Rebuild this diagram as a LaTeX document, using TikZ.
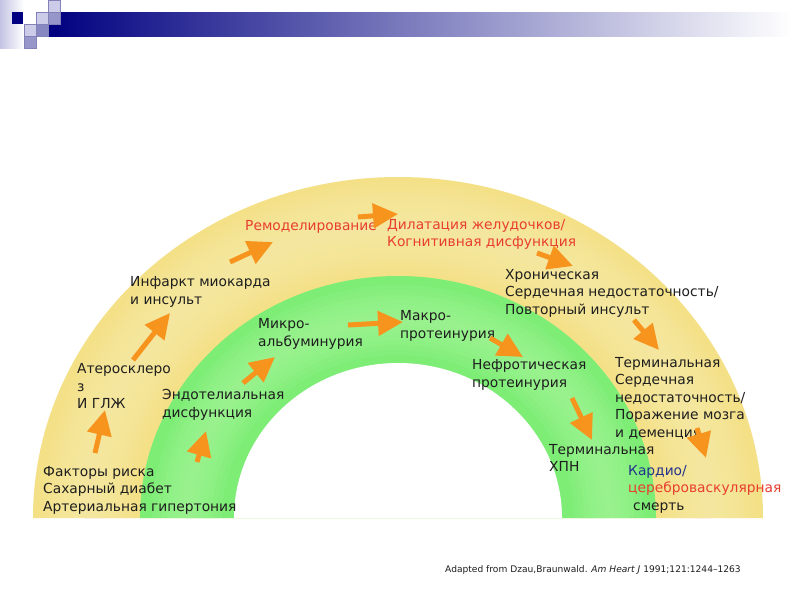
\documentclass[tikz,border=0pt]{standalone}
\usepackage{fontspec}
\setmainfont{DejaVu Sans}
\usetikzlibrary{arrows.meta}
\definecolor{navy}{RGB}{0,0,128}
\definecolor{lav}{RGB}{204,204,232}
\definecolor{lavmid}{RGB}{150,150,200}
\definecolor{lavedge}{RGB}{130,130,185}
\definecolor{ylw}{RGB}{244,224,135}
\definecolor{ylwlight}{RGB}{250,237,172}
\definecolor{grn}{RGB}{125,237,118}
\definecolor{grnlight}{RGB}{172,248,160}
\definecolor{orng}{RGB}{247,148,30}
\definecolor{txt}{RGB}{30,30,30}
\definecolor{rd}{RGB}{232,62,48}
\definecolor{blu}{RGB}{35,50,140}
\begin{document}
\begin{tikzpicture}[x=1pt,y=-1pt,
  lbl/.style={anchor=west,align=left,inner sep=0pt,font=\fontsize{13.8}{17.5}\selectfont,text=txt},
  arr/.style={draw=orng,line width=5pt,-{Triangle[width=24pt,length=25pt]}},
  sq/.style={draw=lavedge,line width=0.4pt}]
\useasboundingbox (0,0) rectangle (800,600);
\fill[white] (0,0) rectangle (800,600);
% header
\shade[left color=lav!85!lavmid,right color=white] (0,0) rectangle (24,48);
\shade[left color=navy,right color=white] (48,12) rectangle (792,36);
\fill[navy] (12,12) rectangle (23,24);
\fill[sq,fill=lav] (36,12) rectangle (48,24);
\fill[sq,fill=lav] (48,0) rectangle (60,12);
\fill[sq,fill=lavmid] (48,12) rectangle (60,24);
\fill[sq,fill=lav] (24,24) rectangle (36,36);
\fill[sq,fill=lavmid!90!navy] (36,24) rectangle (48,36);
\fill[sq,fill=lavmid] (24,36) rectangle (36,48);
% yellow band
\fill[ylw] (33,518) arc[start angle=180,end angle=0,x radius=365pt,y radius=341pt] -- cycle;
\foreach \w in {10,20,...,90}
  \draw[ylwlight,line width=\w pt,opacity=0.13] (87,518) arc[start angle=180,end angle=0,x radius=311pt,y radius=291pt];
% green band
\fill[grn] (140,518) arc[start angle=180,end angle=0,x radius=258pt,y radius=242pt] -- cycle;
\foreach \w in {10,20,...,70}
  \draw[grnlight,line width=\w pt,opacity=0.13] (187,518) arc[start angle=180,end angle=0,x radius=211pt,y radius=198pt];
\fill[white] (234,518) arc[start angle=180,end angle=0,x radius=164pt,y radius=155pt] -- cycle;
% labels
\node[lbl] (risk) at (43,490) {Факторы риска\\Сахарный диабет\\Артериальная гипертония};
\node[lbl] (ath) at (77,386) {Атеросклеро\\з\\И ГЛЖ};
\node[lbl] (inf) at (130,292) {Инфаркт миокарда\\и инсульт};
\node[lbl] (endo) at (162,405) {Эндотелиальная\\дисфункция};
\node[lbl] (micro) at (258,334) {Микро-\\альбуминурия};
\node[lbl,text=rd] (remod) at (245,227) {Ремоделирование};
\node[lbl,text=rd] (dil) at (387,234.5) {Дилатация желудочков/\\Когнитивная дисфункция};
\node[lbl] (macro) at (400,326) {Макро-\\протеинурия};
\node[lbl] (chron) at (505,293) {Хроническая\\Сердечная недостаточность/\\Повторный инсульт};
\node[lbl] (nephr) at (472,375) {Нефротическая\\протеинурия};
\node[lbl] (term) at (615,398) {Терминальная\\Сердечная\\недостаточность/\\Поражение мозга\\и деменция};
\node[lbl] (esrd) at (549,458) {Терминальная\\ХПН};
\node[lbl] (death) at (628,489) {\textcolor{blu}{Кардио/}\\\textcolor{rd}{цереброваскулярная}\\\hspace{5pt}смерть};
\node[anchor=west,inner sep=0pt,font=\fontsize{9.1}{10}\selectfont,text=txt] (cite) at (445,570) {Adapted from Dzau,Braunwald. \textit{Am Heart J} 1991;121:1244–1263};
% arrow end points
\coordinate (t1) at (95,453);  \coordinate (h1) at (105,410);
\coordinate (t2) at (133,360); \coordinate (h2) at (170,313);
\coordinate (t3) at (197,462); \coordinate (h3) at (206,431);
\coordinate (t4) at (243,383); \coordinate (h4) at (275,357);
\coordinate (t5) at (230,262); \coordinate (h5) at (273,242);
\coordinate (t6) at (358,217); \coordinate (h6) at (398,214);
\coordinate (t7) at (537,253); \coordinate (h7) at (573,266);
\coordinate (t8) at (348,325); \coordinate (h8) at (403,322);
\coordinate (t9) at (490,338); \coordinate (h9) at (523,357);
\coordinate (t10) at (634,320); \coordinate (h10) at (659,350);
\coordinate (t11) at (572,398); \coordinate (h11) at (592,440);
\coordinate (t12) at (697,428); \coordinate (h12) at (706,458);
\foreach \i in {1,...,12}
  \draw[arr] (t\i) -- (h\i);
\end{tikzpicture}
\end{document}
